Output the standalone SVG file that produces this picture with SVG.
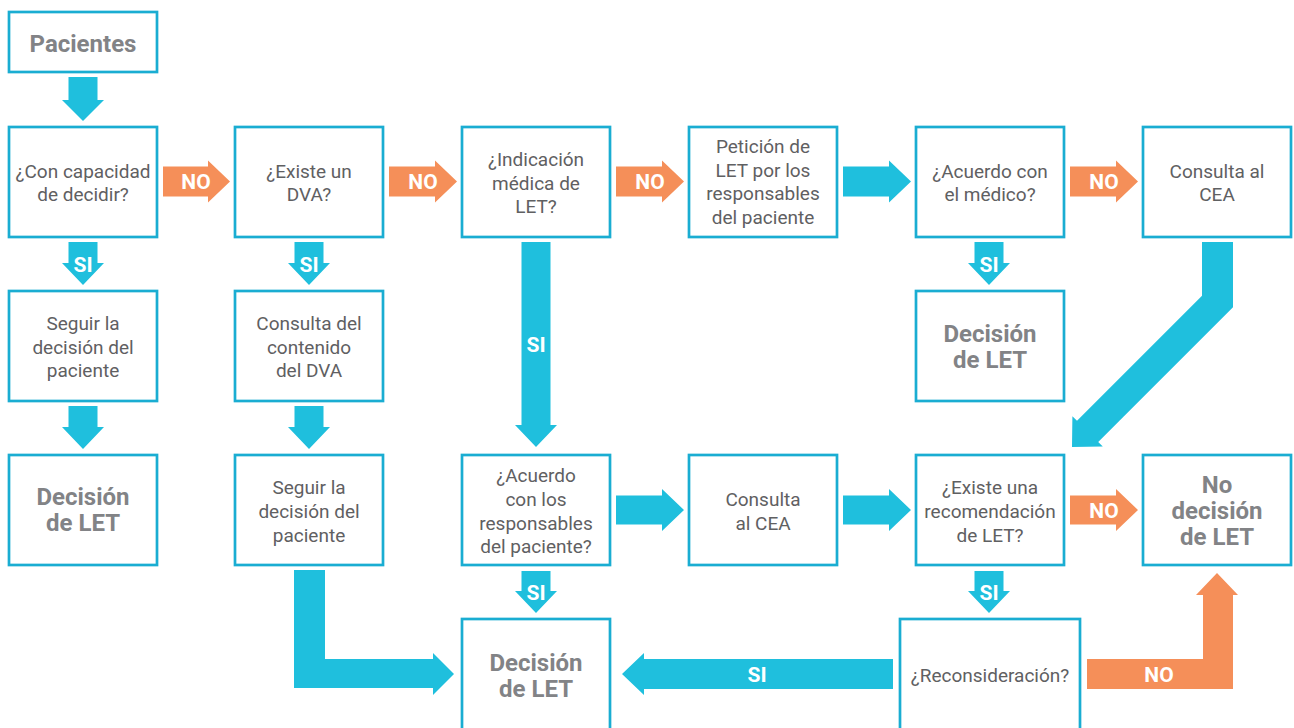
<svg xmlns="http://www.w3.org/2000/svg" width="1294" height="728" viewBox="0 0 1294 728">
<style>
.box{fill:#fff;stroke:#1aadd2;stroke-width:2.7}
.t{font-family:Roboto,"Liberation Sans",sans-serif;font-size:19px;fill:#5f6062;text-anchor:middle}
.b{font-family:Roboto,"Liberation Sans",sans-serif;font-size:24px;font-weight:bold;fill:#828386;text-anchor:middle}
.c{fill:#1fbfdd}
.o{fill:#f58f59}
.l{font-family:Roboto,"Liberation Sans",sans-serif;font-size:21px;font-weight:bold;fill:#fff;text-anchor:middle}
</style>
<rect width="1294" height="728" fill="#fff"/>
<g id="connectors">
<!-- down arrows -->
<polygon class="c" points="68.5,77 97.5,77 97.5,100 104,100 83,121 62,100 68.5,100"/>
<polygon class="c" points="68.5,242 97.5,242 97.5,263 104,263 83,285 62,263 68.5,263"/>
<polygon class="c" points="294.5,242 323.5,242 323.5,263 330,263 309,285 288,263 294.5,263"/>
<polygon class="c" points="974.5,242 1003.5,242 1003.5,263 1010,263 989,285 968,263 974.5,263"/>
<polygon class="c" points="68.5,406 97.5,406 97.5,427 104,427 83,449 62,427 68.5,427"/>
<polygon class="c" points="294.5,406 323.5,406 323.5,427 330,427 309,449 288,427 294.5,427"/>
<polygon class="c" points="521.5,242 550.5,242 550.5,425 557,425 536,447 515,425 521.5,425"/>
<polygon class="c" points="521.5,571 550.5,571 550.5,591 557,591 536,613 515,591 521.5,591"/>
<polygon class="c" points="974.5,571 1003.5,571 1003.5,591 1010,591 989,613 968,591 974.5,591"/>
<!-- row 2 horizontals -->
<polygon class="o" points="163,166.5 208,166.5 208,160.5 230,181.5 208,202.5 208,196.5 163,196.5"/>
<polygon class="o" points="389,166.5 435,166.5 435,160.5 457,181.5 435,202.5 435,196.5 389,196.5"/>
<polygon class="o" points="616,166.5 662,166.5 662,160.5 684,181.5 662,202.5 662,196.5 616,196.5"/>
<polygon class="c" points="843,166.5 889,166.5 889,160.5 911,181.5 889,202.5 889,196.5 843,196.5"/>
<polygon class="o" points="1070,166.5 1116,166.5 1116,160.5 1138,181.5 1116,202.5 1116,196.5 1070,196.5"/>
<!-- row 4 horizontals -->
<polygon class="c" points="616,495.5 662,495.5 662,489 684,510 662,531 662,524.5 616,524.5"/>
<polygon class="c" points="843,495.5 889,495.5 889,489 911,510 889,531 889,524.5 843,524.5"/>
<polygon class="o" points="1070,495.5 1116,495.5 1116,489 1138,510 1116,531 1116,524.5 1070,524.5"/>
<!-- diagonal from Consulta al CEA -->
<polygon class="c" points="1202,242 1233,242 1233,307.2 1098.2,442 1102.8,446.6 1072,447 1072.4,416.2 1077,420.8 1202,295.8"/>
<!-- L arrow bottom left -->
<polygon class="c" points="294,570 325,570 325,659 433,659 433,653 454,674 433,695 433,688 294,688"/>
<!-- SI left arrow -->
<polygon class="c" points="893,659 644,659 644,653 622,674 644,695 644,689 893,689"/>
<!-- NO orange L -->
<polygon class="o" points="1087,659 1203,659 1203,595 1196,595 1217,573 1238,595 1233,595 1233,689 1087,689"/>
<text class="l" x="196" y="189">NO</text>
<text class="l" x="423" y="189">NO</text>
<text class="l" x="650" y="189">NO</text>
<text class="l" x="1104" y="189">NO</text>
<text class="l" x="1104" y="518">NO</text>
<text class="l" x="83" y="272">SI</text>
<text class="l" x="309" y="272">SI</text>
<text class="l" x="989" y="272">SI</text>
<text class="l" x="536" y="352">SI</text>
<text class="l" x="536" y="600">SI</text>
<text class="l" x="989" y="600">SI</text>
<text class="l" x="757" y="682">SI</text>
<text class="l" x="1159" y="682">NO</text>
</g>
<g id="n-pacientes"><rect class="box" x="9" y="12" width="148" height="60"/><text class="b" x="83" y="52">Pacientes</text></g>
<g id="n-capacidad"><rect class="box" x="9" y="127" width="148" height="110"/><text class="t" x="83" y="178">¿Con capacidad</text><text class="t" x="83" y="201">de decidir?</text></g>
<g id="n-dva"><rect class="box" x="235" y="127" width="148" height="110"/><text class="t" x="309" y="178">¿Existe un</text><text class="t" x="309" y="201">DVA?</text></g>
<g id="n-indicacion"><rect class="box" x="462" y="127" width="148" height="110"/><text class="t" x="536" y="166">¿Indicación</text><text class="t" x="536" y="190">médica de</text><text class="t" x="536" y="213">LET?</text></g>
<g id="n-peticion"><rect class="box" x="689" y="127" width="148" height="110"/><text class="t" x="763" y="153">Petición de</text><text class="t" x="763" y="177">LET por los</text><text class="t" x="763" y="200">responsables</text><text class="t" x="763" y="224">del paciente</text></g>
<g id="n-acuerdo-medico"><rect class="box" x="916" y="127" width="148" height="110"/><text class="t" x="990" y="178">¿Acuerdo con</text><text class="t" x="990" y="201">el médico?</text></g>
<g id="n-cea1"><rect class="box" x="1143" y="127" width="148" height="110"/><text class="t" x="1217" y="178">Consulta al</text><text class="t" x="1217" y="201">CEA</text></g>
<g id="n-seguir1"><rect class="box" x="9" y="291" width="148" height="110"/><text class="t" x="83" y="330">Seguir la</text><text class="t" x="83" y="354">decisión del</text><text class="t" x="83" y="377">paciente</text></g>
<g id="n-contenido"><rect class="box" x="235" y="291" width="148" height="110"/><text class="t" x="309" y="330">Consulta del</text><text class="t" x="309" y="354">contenido</text><text class="t" x="309" y="377">del DVA</text></g>
<g id="n-decision2"><rect class="box" x="916" y="291" width="148" height="110"/><text class="b" x="990" y="342">Decisión</text><text class="b" x="990" y="368">de LET</text></g>
<g id="n-decision1"><rect class="box" x="9" y="455" width="148" height="110"/><text class="b" x="83" y="505">Decisión</text><text class="b" x="83" y="531">de LET</text></g>
<g id="n-seguir2"><rect class="box" x="235" y="455" width="148" height="110"/><text class="t" x="309" y="494">Seguir la</text><text class="t" x="309" y="518">decisión del</text><text class="t" x="309" y="542">paciente</text></g>
<g id="n-acuerdo-resp"><rect class="box" x="462" y="455" width="148" height="110"/><text class="t" x="536" y="482">¿Acuerdo</text><text class="t" x="536" y="506">con los</text><text class="t" x="536" y="530">responsables</text><text class="t" x="536" y="553">del paciente?</text></g>
<g id="n-cea2"><rect class="box" x="689" y="455" width="148" height="110"/><text class="t" x="763" y="506">Consulta</text><text class="t" x="763" y="530">al CEA</text></g>
<g id="n-recomendacion"><rect class="box" x="916" y="455" width="148" height="110"/><text class="t" x="990" y="494">¿Existe una</text><text class="t" x="990" y="518">recomendación</text><text class="t" x="990" y="542">de LET?</text></g>
<g id="n-nodecision"><rect class="box" x="1143" y="455" width="148" height="110"/><text class="b" x="1217" y="493">No</text><text class="b" x="1217" y="519">decisión</text><text class="b" x="1217" y="545">de LET</text></g>
<g id="n-decision3"><rect class="box" x="462" y="619" width="148" height="120"/><text class="b" x="536" y="671">Decisión</text><text class="b" x="536" y="697">de LET</text></g>
<g id="n-reconsideracion"><rect class="box" x="900" y="619" width="180" height="120"/><text class="t" x="990" y="682">¿Reconsideración?</text></g>
</svg>
